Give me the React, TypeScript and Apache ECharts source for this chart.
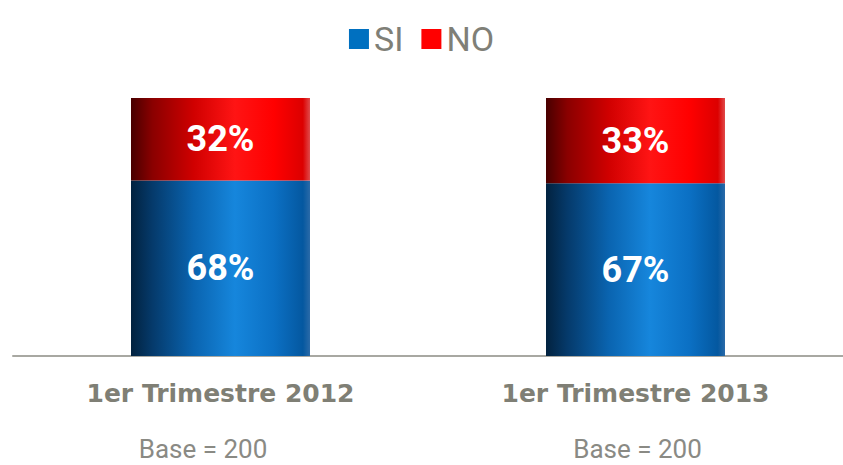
import React, { useEffect, useRef } from "react";
import * as echarts from "echarts";

const categories = ["1er Trimestre 2012", "1er Trimestre 2013"];
const bases = [200, 200];
const siValues = [68, 67];
const noValues = [32, 33];

const blueGradient = new echarts.graphic.LinearGradient(0, 0, 1, 0, [
  { offset: 0, color: "#02223f" },
  { offset: 0.12, color: "#053a6b" },
  { offset: 0.35, color: "#0a64b0" },
  { offset: 0.58, color: "#1686dc" },
  { offset: 0.8, color: "#0b70c4" },
  { offset: 0.96, color: "#0458a0" },
  { offset: 1, color: "#2a6aa8" },
]);

const redGradient = new echarts.graphic.LinearGradient(0, 0, 1, 0, [
  { offset: 0, color: "#480000" },
  { offset: 0.12, color: "#8a0000" },
  { offset: 0.35, color: "#d00000" },
  { offset: 0.58, color: "#ff1414" },
  { offset: 0.8, color: "#ff0000" },
  { offset: 0.96, color: "#dc0000" },
  { offset: 1, color: "#e04a4a" },
]);

const baseStyle = {
  fontFamily: "Roboto",
  fontSize: 26,
  color: "#8a8a84",
  lineHeight: 78,
};

export default function App() {
  const ref = useRef<HTMLDivElement>(null);
  useEffect(() => {
    if (!ref.current) return;
    const chart = echarts.init(ref.current, undefined, { renderer: "svg" });
    chart.setOption({
      animation: false,
      backgroundColor: "#ffffff",
      legend: {
        top: 17,
        left: "center",
        itemWidth: 20,
        itemHeight: 20,
        itemGap: 18,
        icon: "rect",
        data: [
          { name: "SI", itemStyle: { color: "#0070c0" } },
          { name: "NO", itemStyle: { color: "#ff0000" } },
        ],
        textStyle: {
          fontFamily: "Roboto",
          fontSize: 34,
          color: "#7f7f77",
          lineHeight: 20,
        },
      },
      grid: { left: 13, right: 0, top: 98, bottom: 109 },
      xAxis: {
        type: "category",
        data: categories,
        axisLine: { show: true, lineStyle: { color: "#a8a8a2", width: 2 } },
        axisTick: { show: false },
        axisLabel: {
          margin: 20,
          interval: 0,
          formatter: (value: string, idx: number) =>
            `{a|${value}}\n{b${idx}|Base = ${bases[idx]}}`,
          rich: {
            a: {
              fontFamily: "DejaVu Sans",
              fontWeight: "bold",
              fontSize: 25,
              color: "#7f7f75",
              lineHeight: 34,
            },
            b0: { ...baseStyle, padding: [0, 35, 0, 0] },
            b1: { ...baseStyle, padding: [0, 0, 0, 4] },
          },
        },
      },
      yAxis: { type: "value", min: 0, max: 100, show: false },
      series: [
        {
          name: "SI",
          type: "bar",
          stack: "total",
          barWidth: 179,
          data: siValues,
          itemStyle: { color: blueGradient },
          label: {
            show: true,
            position: "inside",
            formatter: "{c}%",
            color: "#ffffff",
            fontFamily: "Roboto",
            fontWeight: "bold",
            fontSize: 36,
          },
        },
        {
          name: "NO",
          type: "bar",
          stack: "total",
          barWidth: 179,
          data: noValues,
          itemStyle: { color: redGradient },
          label: {
            show: true,
            position: "inside",
            formatter: "{c}%",
            color: "#ffffff",
            fontFamily: "Roboto",
            fontWeight: "bold",
            fontSize: 36,
          },
        },
      ],
    });
    return () => chart.dispose();
  }, []);
  return <div ref={ref} style={{ width: 843, height: 465, position: "absolute", left: 0, top: 0 }} />;
}
